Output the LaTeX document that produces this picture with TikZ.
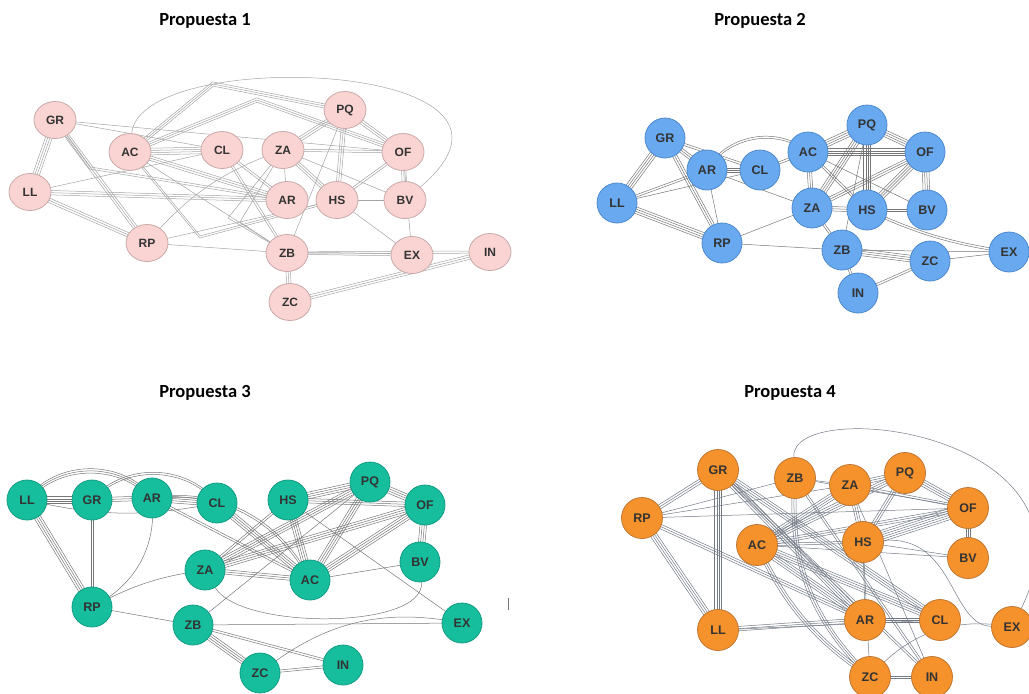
\documentclass[tikz,border=0pt]{standalone}
\usepackage{fontspec}
\newfontfamily\labfont{Liberation Sans}
\newfontfamily\titfont{Carlito}
\usetikzlibrary{calc,backgrounds,shapes.geometric}
\definecolor{pinkfill}{HTML}{F9D4D2}
\definecolor{pinkdraw}{HTML}{C9A9A9}
\definecolor{bluefill}{HTML}{68A9F0}
\definecolor{bluedraw}{HTML}{4E89CC}
\definecolor{tealfill}{HTML}{17BE9E}
\definecolor{tealdraw}{HTML}{119C82}
\definecolor{orgfill}{HTML}{F5922C}
\definecolor{orgdraw}{HTML}{BF7632}
\definecolor{labc}{HTML}{333333}
\definecolor{linkA}{HTML}{A4A4A4}
\definecolor{linkB}{HTML}{767676}
\definecolor{linkD}{HTML}{737A86}
\newcommand{\ME}[4][]{%
  \foreach \k in {1,...,#4}{%
    \draw[lnk] let \p1=($(#3)-(#2)$), \n1={atan2(\y1,\x1)}, \n2={(\k-(#4+1)/2)*2.2} in
      ([shift={(\n1+90:\n2 pt)}]#2.center) to[#1] ([shift={(\n1+90:\n2 pt)}]#3.center);
  }}
\newcommand{\MP}[4]{%
  \foreach \k in {1,...,#4}{%
    \draw[lnk] let \p1=($(#3)-(#1)$), \n1={atan2(\y1,\x1)}, \n2={(\k-(#4+1)/2)*2.2} in
      ([shift={(\n1+90:\n2 pt)}]#1.center) -- ([shift={(\n1+90:\n2 pt)}]#2) -- ([shift={(\n1+90:\n2 pt)}]#3.center);
  }}
\tikzset{
  lnk/.style={draw=linkB, line width=0.5pt},
  nd/.style={inner sep=0pt, line width=0.8pt, text=labc,
    font=\labfont\bfseries\fontsize{12.5}{13}\selectfont},
  qa/.style={nd, ellipse, minimum width=42pt, minimum height=37pt, fill=pinkfill, draw=pinkdraw,
    font=\labfont\bfseries\fontsize{12}{13}\selectfont},
  qb/.style={nd, circle, minimum size=40pt, fill=bluefill, draw=bluedraw},
  qc/.style={nd, circle, minimum size=40pt, fill=tealfill, draw=tealdraw},
  qd/.style={nd, circle, minimum size=41pt, fill=orgfill, draw=orgdraw},
  ttl/.style={font=\titfont\bfseries\fontsize{18.5}{20}\selectfont, text=black, inner sep=0pt}
}
\begin{document}
\begin{tikzpicture}[x=1pt,y=-1pt]
\useasboundingbox (0,0) rectangle (1029,694);
% titles
\node[ttl] (t1) at (205,21) {Propuesta 1};
\node[ttl] (t2) at (760,21) {Propuesta 2};
\node[ttl] (t3) at (205,393) {Propuesta 3};
\node[ttl] (t4) at (790,393) {Propuesta 4};
% ---------------- Q1 nodes
\node[qa] (aGR) at (55,120) {GR};
\node[qa] (aAC) at (130,152) {AC};
\node[qa] (aCL) at (222,150) {CL};
\node[qa] (aZA) at (283,150) {ZA};
\node[qa] (aPQ) at (345,110) {PQ};
\node[qa] (aOF) at (403,152) {OF};
\node[qa] (aLL) at (30,192) {LL};
\node[qa] (aAR) at (287,200) {AR};
\node[qa] (aHS) at (337,200) {HS};
\node[qa] (aBV) at (405,200) {BV};
\node[qa] (aRP) at (147,243) {RP};
\node[qa] (aZB) at (287,253) {ZB};
\node[qa] (aEX) at (412,255) {EX};
\node[qa] (aIN) at (490,252) {IN};
\node[qa] (aZC) at (290,302) {ZC};
% ---------------- Q2 nodes
\node[qb] (bGR) at (665,138) {GR};
\node[qb] (bAR) at (707,170) {AR};
\node[qb] (bCL) at (760,170) {CL};
\node[qb] (bAC) at (808,152) {AC};
\node[qb] (bPQ) at (867,125) {PQ};
\node[qb] (bOF) at (925,152) {OF};
\node[qb] (bLL) at (617,203) {LL};
\node[qb] (bZA) at (812,208) {ZA};
\node[qb] (bHS) at (867,210) {HS};
\node[qb] (bBV) at (927,210) {BV};
\node[qb] (bRP) at (722,243) {RP};
\node[qb] (bZB) at (842,250) {ZB};
\node[qb] (bZC) at (930,261) {ZC};
\node[qb] (bEX) at (1009,252) {EX};
\node[qb] (bIN) at (858,293) {IN};
% ---------------- Q3 nodes
\node[qc] (cLL) at (27,500) {LL};
\node[qc] (cGR) at (92,500) {GR};
\node[qc] (cAR) at (152,498) {AR};
\node[qc] (cCL) at (217,503) {CL};
\node[qc] (cHS) at (288,500) {HS};
\node[qc] (cPQ) at (370,482) {PQ};
\node[qc] (cOF) at (425,505) {OF};
\node[qc] (cZA) at (205,570) {ZA};
\node[qc] (cAC) at (310,580) {AC};
\node[qc] (cBV) at (420,562) {BV};
\node[qc] (cRP) at (92,607) {RP};
\node[qc] (cZB) at (193,625) {ZB};
\node[qc] (cEX) at (462,623) {EX};
\node[qc] (cZC) at (260,673) {ZC};
\node[qc] (cIN) at (343,665) {IN};
% ---------------- Q4 nodes
\node[qd] (dGR) at (718,470) {GR};
\node[qd] (dZB) at (795,478) {ZB};
\node[qd] (dZA) at (850,485) {ZA};
\node[qd] (dPQ) at (905,473) {PQ};
\node[qd] (dRP) at (642,518) {RP};
\node[qd] (dOF) at (968,508) {OF};
\node[qd] (dAC) at (757,545) {AC};
\node[qd] (dHS) at (863,542) {HS};
\node[qd] (dBV) at (968,558) {BV};
\node[qd] (dLL) at (718,630) {LL};
\node[qd] (dAR) at (865,620) {AR};
\node[qd] (dCL) at (940,620) {CL};
\node[qd] (dEX) at (1012,627) {EX};
\node[qd] (dZC) at (870,677) {ZC};
\node[qd] (dIN) at (932,677) {IN};
\coordinate (mk1) at (508,598);
\coordinate (mk2) at (508,610);
\draw[draw=linkB, line width=0.6pt] (mk1) -- (mk2);
\begin{pgfonlayer}{background}
% ---------------- Q1 edges
\begin{scope}[lnk/.style={draw=linkA, line width=0.5pt}]
\ME{aGR}{aLL}{4}
\ME{aGR}{aRP}{3}
\MP{aGR}{90,168}{aAR}{2}
\ME{aGR}{aOF}{1}
\ME{aGR}{aCL}{1}
\ME{aLL}{aAR}{3}
\ME{aLL}{aRP}{3}
\ME{aLL}{aCL}{1}
\ME{aAC}{aCL}{4}
\ME{aAC}{aAR}{3}
\MP{aAC}{200,237}{aHS}{2}
\ME{aAC}{aZB}{1}
\MP{aAC}{213,84}{aPQ}{3}
\MP{aAC}{257,100}{aOF}{3}
\draw[lnk] (aAC) .. controls (140,45) and (570,60) .. (aBV);
\ME{aCL}{aZB}{2}
\ME{aCL}{aAR}{2}
\ME[bend left=15]{aRP}{aZA}{1}
\ME{aRP}{aZB}{1}
\ME{aRP}{aHS}{1}
\ME{aZA}{aPQ}{3}
\ME{aZA}{aOF}{2}
\ME{aZA}{aAR}{1}
\ME{aZA}{aHS}{3}
\ME{aZA}{aBV}{1}
\MP{aZA}{228,218}{aZB}{1}
\MP{aZA}{240,222}{aZB}{1}
\ME{aPQ}{aHS}{3}
\ME{aPQ}{aOF}{3}
\ME{aPQ}{aZB}{1}
\ME{aOF}{aHS}{2}
\ME{aOF}{aBV}{3}
\ME{aOF}{aEX}{1}
\ME{aHS}{aBV}{1}
\ME{aHS}{aEX}{1}
\ME{aZB}{aIN}{2}
\ME{aZB}{aEX}{2}
\ME{aZB}{aZC}{3}
\ME{aZC}{aIN}{3}
\end{scope}
% ---------------- Q2 edges
\ME{bGR}{bLL}{4}
\ME{bGR}{bAR}{3}
\ME{bGR}{bCL}{2}
\ME{bGR}{bRP}{3}
\ME{bLL}{bAR}{2}
\ME{bLL}{bCL}{1}
\ME{bLL}{bRP}{4}
\ME{bAR}{bCL}{3}
\ME[bend left=50]{bAR}{bAC}{2}
\ME{bAR}{bRP}{1}
\ME{bAR}{bZA}{1}
\ME{bCL}{bAC}{2}
\ME{bAC}{bPQ}{4}
\ME{bAC}{bOF}{4}
\ME{bAC}{bZA}{3}
\ME{bAC}{bHS}{2}
\ME{bAC}{bBV}{1}
\ME{bPQ}{bOF}{4}
\ME{bPQ}{bZA}{4}
\ME{bPQ}{bHS}{4}
\ME{bPQ}{bZB}{1}
\ME{bOF}{bZA}{3}
\ME{bOF}{bHS}{4}
\ME{bOF}{bBV}{4}
\ME{bZA}{bHS}{3}
\ME{bZA}{bZB}{2}
\ME{bZA}{bRP}{1}
\ME{bHS}{bBV}{2}
\ME[bend right=8]{bHS}{bEX}{2}
\ME{bRP}{bZB}{1}
\ME{bZB}{bZC}{4}
\ME{bZB}{bIN}{2}
\ME{bZB}{bEX}{1}
\ME{bZC}{bEX}{1}
\ME{bIN}{bZC}{2}
% ---------------- Q3 edges
\ME{cLL}{cGR}{4}
\ME[bend left=50]{cLL}{cAR}{3}
\ME[bend right=12]{cLL}{cCL}{1}
\ME{cLL}{cRP}{4}
\ME{cGR}{cAR}{3}
\ME[bend left=50]{cGR}{cCL}{2}
\ME{cGR}{cRP}{2}
\ME{cAR}{cCL}{4}
\ME{cAR}{cAC}{2}
\ME[bend left=35]{cAR}{cAC}{2}
\ME[bend left=35]{cAR}{cRP}{1}
\ME{cCL}{cAC}{4}
\ME{cHS}{cPQ}{4}
\ME{cHS}{cOF}{3}
\ME{cHS}{cAC}{4}
\ME{cHS}{cEX}{1}
\ME{cPQ}{cOF}{4}
\ME{cPQ}{cZA}{4}
\ME{cPQ}{cAC}{4}
\ME{cPQ}{cZB}{1}
\ME{cOF}{cZA}{4}
\ME{cOF}{cAC}{4}
\ME{cOF}{cBV}{4}
\ME{cZA}{cAC}{3}
\ME{cHS}{cZA}{2}
\draw[lnk] (cZA) .. controls (240,630) and (425,630) .. (cBV);
\ME[bend left=10]{cRP}{cZA}{1}
\ME{cBV}{cAC}{1}
\ME{cRP}{cZB}{1}
\ME{cZB}{cEX}{1}
\ME{cZB}{cZC}{4}
\ME{cZB}{cIN}{2}
\ME{cZC}{cIN}{2}
\ME[bend left=25]{cZC}{cEX}{1}
% ---------------- Q4 edges
\begin{scope}[lnk/.style={draw=linkD, line width=0.5pt}]
\ME{dGR}{dRP}{3}
\ME{dGR}{dLL}{4}
\ME{dGR}{dAR}{4}
\ME{dGR}{dCL}{4}
\ME{dGR}{dIN}{2}
\ME{dRP}{dLL}{4}
\ME{dRP}{dZA}{1}
\ME{dRP}{dZB}{1}
\ME{dRP}{dAR}{3}
\ME{dRP}{dOF}{1}
\ME{dZB}{dZA}{1}
\ME{dZB}{dOF}{1}
\ME[bend right=25]{dZB}{dZC}{3}
\ME{dZB}{dIN}{2}
\draw[lnk] (dZB) .. controls (790,395) and (1110,430) .. (dEX);
\ME{dZA}{dPQ}{3}
\ME{dZA}{dOF}{2}
\ME{dZA}{dHS}{3}
\ME{dZA}{dAC}{4}
\ME{dZA}{dIN}{1}
\ME{dPQ}{dOF}{4}
\ME{dPQ}{dAC}{4}
\ME{dPQ}{dHS}{3}
\ME{dOF}{dAC}{3}
\ME{dOF}{dHS}{6}
\ME{dOF}{dBV}{3}
\ME{dAC}{dHS}{2}
\ME{dAC}{dBV}{1}
\ME{dAC}{dAR}{4}
\ME{dAC}{dCL}{4}
\ME[bend right=15]{dAC}{dZC}{3}
\draw[lnk] (dHS) .. controls (955,535) and (950,625) .. (dEX);
\ME{dHS}{dBV}{1}
\ME{dHS}{dZC}{1}
\ME{dHS}{dAR}{1}
\ME{dLL}{dAR}{3}
\ME{dLL}{dCL}{1}
\ME{dAR}{dCL}{3}
\ME{dZC}{dIN}{2}
\ME[bend left=30]{dZC}{dEX}{1}
\end{scope}
\end{pgfonlayer}
\end{tikzpicture}
\end{document}
